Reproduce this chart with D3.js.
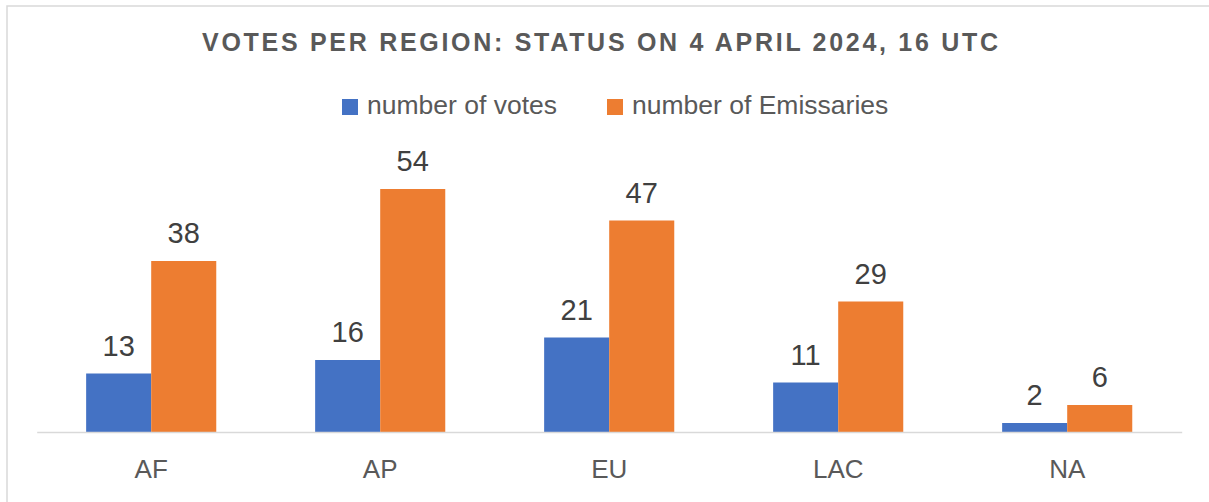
<!DOCTYPE html>
<html lang="en">
<head>
    <meta charset="UTF-8">
    <title>Votes per region</title>
    <script src="https://d3js.org/d3.v7.min.js"></script>
    <style>
        body { margin: 0; background: #fff; }
        svg { display: block; font-family: "Liberation Sans", Arial, sans-serif; }
        .title { font-weight: bold; font-size: 25px; fill: #595959; }
        .legend text { font-size: 26.5px; fill: #595959; }
        .cat { font-size: 26px; fill: #595959; }
        .val { font-size: 29px; fill: #404040; }
    </style>
</head>
<body>
    <script>
        // data
        const regions = ["AF", "AP", "EU", "LAC", "NA"];
        const seriesNames = ["number of votes", "number of Emissaries"];
        const votes = [13, 16, 21, 11, 2];
        const emissaries = [38, 54, 47, 29, 6];
        const colors = ["#4472C4", "#ED7D31"];
        const titleText = "VOTES PER REGION: STATUS ON 4 APRIL 2024, 16 UTC";

        const width = 1209, height = 502;

        const svg = d3.select("body").append("svg")
            .attr("width", width)
            .attr("height", height);

        // chart frame
        svg.append("rect")
            .attr("x", 7).attr("y", 6)
            .attr("width", width + 10).attr("height", height + 10)
            .attr("fill", "none")
            .attr("stroke", "#d9d9d9")
            .attr("stroke-width", 1.5);

        // title, stretched with letter spacing
        svg.append("text")
            .attr("class", "title")
            .attr("x", 202).attr("y", 51)
            .attr("textLength", 796)
            .attr("lengthAdjust", "spacing")
            .text(titleText);

        // legend
        const legendX = [342, 607];
        const legend = svg.append("g").attr("class", "legend");
        seriesNames.forEach((name, i) => {
            legend.append("rect")
                .attr("x", legendX[i]).attr("y", 99)
                .attr("width", 16).attr("height", 16)
                .attr("fill", colors[i]);
            legend.append("text")
                .attr("x", legendX[i] + 25).attr("y", 114)
                .text(name);
        });

        // scales
        const x = d3.scaleBand()
            .domain(regions)
            .range([36.7, 1181.7]);

        const xs = d3.scaleBand()
            .domain(seriesNames)
            .range([0, x.bandwidth()])
            .paddingInner(0)
            .paddingOuter(0.76);

        const y = d3.scaleLinear()
            .domain([0, 60])
            .range([432, 162]);

        const rows = regions.map((r, i) => ({ region: r, values: [votes[i], emissaries[i]] }));

        const groups = svg.selectAll(".grp")
            .data(rows)
            .enter().append("g")
            .attr("class", "grp")
            .attr("transform", d => `translate(${x(d.region)},0)`);

        const cells = d => d.values.map((v, i) => ({ key: seriesNames[i], v, i }));

        groups.selectAll("rect")
            .data(cells)
            .enter().append("rect")
            .attr("x", d => xs(d.key))
            .attr("y", d => y(d.v))
            .attr("width", xs.bandwidth())
            .attr("height", d => y(0) - y(d.v))
            .attr("fill", d => colors[d.i]);

        groups.selectAll("text.val")
            .data(cells)
            .enter().append("text")
            .attr("class", "val")
            .attr("x", d => xs(d.key) + xs.bandwidth() / 2)
            .attr("y", d => y(d.v) - 18)
            .attr("text-anchor", "middle")
            .text(d => d.v);

        // category axis
        const xAxis = svg.append("g")
            .attr("transform", `translate(0,${y(0)})`)
            .call(d3.axisBottom(x).tickSize(0).tickPadding(0));
        xAxis.select(".domain")
            .attr("stroke", "#d9d9d9")
            .attr("stroke-width", 1.5);
        xAxis.selectAll("text")
            .attr("class", "cat")
            .attr("font-size", null)
            .attr("font-family", null)
            .attr("fill", null)
            .attr("dy", 0)
            .attr("y", 46);
    </script>
</body>
</html>
